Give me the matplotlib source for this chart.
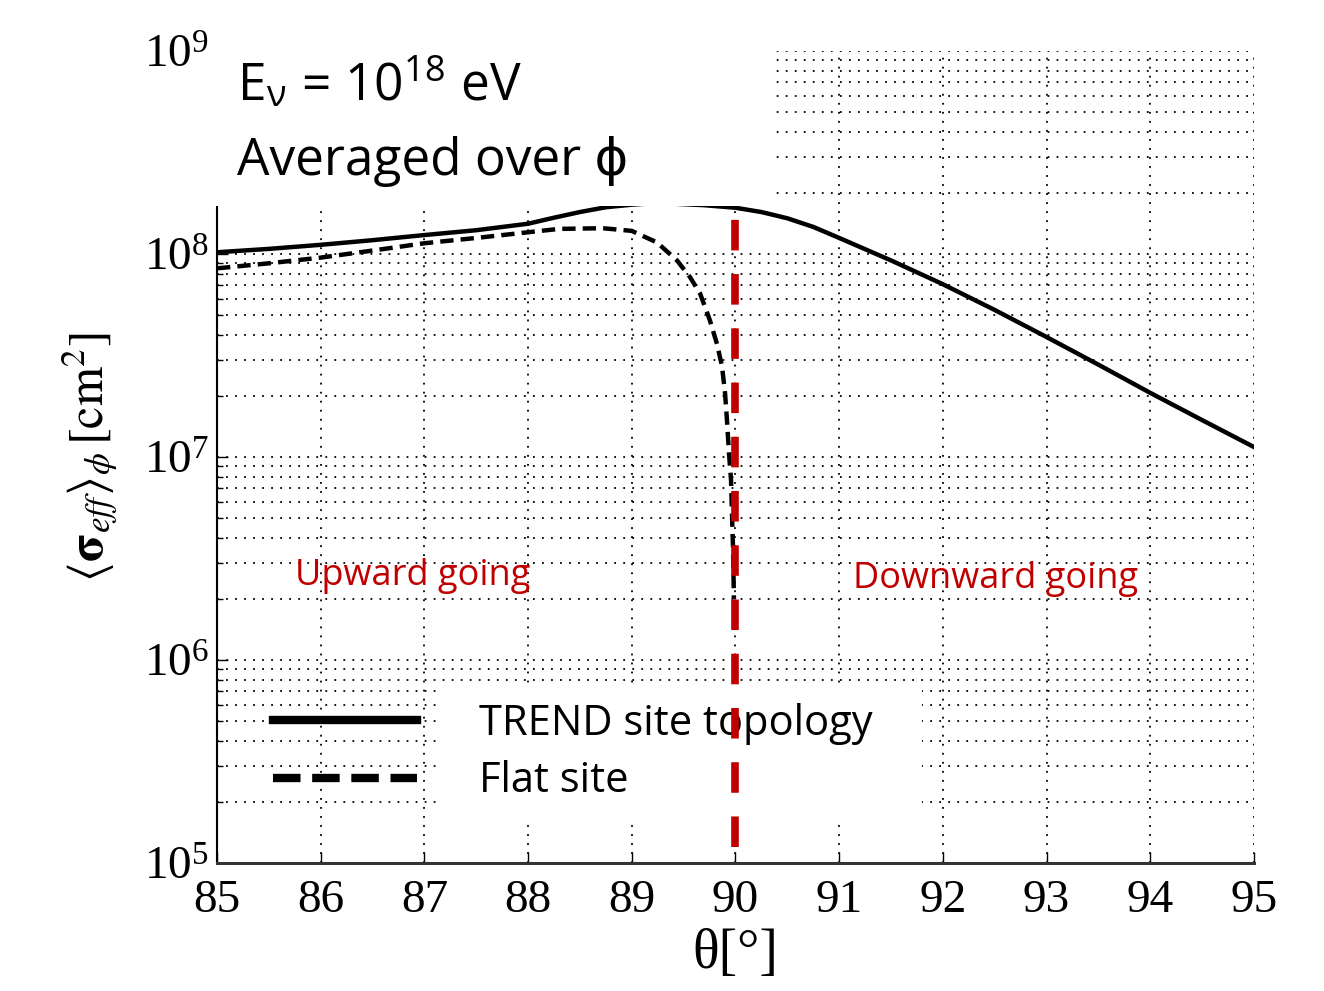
import matplotlib.pyplot as plt
import numpy as np
from matplotlib.patches import Rectangle

# =====================
# Data
# =====================
theta_trend = np.array([85.0, 85.5, 86.0, 86.5, 87.0, 87.5, 88.0, 88.25, 88.5, 88.75, 89.0, 89.2, 89.4,
                        89.7, 90.0, 90.25, 90.5, 90.75, 91.0, 91.5, 92.0, 92.5, 93.0, 93.5, 94.0, 94.5, 95.0])
sigma_trend = np.array([1.02e8, 1.06e8, 1.11e8, 1.17e8, 1.24e8, 1.31e8, 1.41e8, 1.51e8, 1.61e8, 1.70e8,
                        1.75e8, 1.78e8, 1.77e8, 1.74e8, 1.69e8, 1.61e8, 1.50e8, 1.36e8, 1.20e8, 9.3e7,
                        7.1e7, 5.3e7, 3.9e7, 2.85e7, 2.07e7, 1.52e7, 1.12e7])

theta_flat = np.array([85.0, 85.5, 86.0, 86.5, 87.0, 87.5, 88.0, 88.3, 88.72, 89.0, 89.243, 89.436,
                       89.561, 89.658, 89.754, 89.822, 89.870, 89.899, 89.918, 89.937, 89.957,
                       89.966, 89.976, 89.985])
sigma_flat = np.array([8.5e7, 9.0e7, 9.6e7, 1.04e8, 1.13e8, 1.2e8, 1.28e8, 1.33e8, 1.34e8, 1.30e8, 1.14e8, 9.3e7,
                       7.7e7, 6.4e7, 4.7e7, 3.6e7, 2.8e7, 2.07e7, 1.52e7, 1.05e7, 7.7e6,
                       5.3e6, 3.6e6, 2.0e6])

horizon = 90.0
horizon_span = (1.2e5, 1.5e8)

labels = ['TREND site topology', 'Flat site']
xticks = np.arange(85, 96, 1)

RED = '#C00000'

plt.rcParams.update({
    'font.family': 'Liberation Serif',
    'mathtext.fontset': 'stix',
})

fig = plt.figure(figsize=(13.24, 9.91), dpi=100)
ax = fig.add_axes([0.1639, 0.1292, 0.7832, 0.8193])

ax.plot(theta_trend, sigma_trend, '-', color='black', lw=3.2, zorder=3, label=labels[0])
ax.plot(theta_flat, sigma_flat, color='black', lw=3.2, linestyle=(0, (3, 1.6)), zorder=3, label=labels[1])
ax.vlines(horizon, horizon_span[0], horizon_span[1], colors=RED, lw=5.5,
          linestyles=(0, (4, 3.1)), zorder=7)

ax.set_yscale('log')
ax.set_xlim(85, 95)
ax.set_ylim(1e5, 1e9)
ax.set_xticks(xticks)
ax.set_xticklabels([str(t) for t in xticks])

# grid
ax.grid(True, which='major', axis='both', color='black', linestyle=(0, (1, 4)), lw=1.3)
ax.grid(True, which='minor', axis='y', color='black', linestyle=(0, (1, 4)), lw=1.3)
ax.set_axisbelow(True)

for s in ['top', 'right']:
    ax.spines[s].set_visible(False)
ax.spines['left'].set_linewidth(1.5)
ax.spines['bottom'].set_linewidth(2.2)
ax.spines['bottom'].set_color('#333333')

ax.tick_params(axis='both', which='major', direction='in', length=8, width=1,
               labelsize=34, top=False, right=False)
ax.tick_params(axis='y', which='minor', direction='in', length=4, width=1, right=False)
ax.tick_params(axis='x', pad=12)
ax.tick_params(axis='y', pad=6)

ax.set_xlabel('θ[°]', fontsize=40, labelpad=4)
ax.set_ylabel(r'$\langle\mathbf{\sigma}_{eff}\rangle_{\phi}\,[\mathrm{cm}^2]$', fontsize=36, labelpad=18)

# white overlay boxes
ax.add_patch(Rectangle((0.1616, 0.792), 0.4244, 0.208, transform=fig.transFigure,
                       facecolor='white', edgecolor='none', clip_on=False, zorder=4.5))
ax.add_patch(Rectangle((0.332, 0.1746), 0.364, 0.1332, transform=fig.transFigure,
                       facecolor='white', edgecolor='none', clip_on=False, zorder=4.5))

sans = ['Open Sans', 'DejaVu Sans']
ax.text(0.179, 0.899, r'E$_{\mathdefault{ν}}$ = 10$^{\mathdefault{18}}$ eV', transform=fig.transFigure,
        fontsize=37, family=sans, va='baseline', ha='left', zorder=6)
ax.text(0.179, 0.823, 'Averaged over ϕ', transform=fig.transFigure,
        fontsize=37, family=sans, va='baseline', ha='left', zorder=6)

ax.text(85.75, 2.6e6, 'Upward going', color=RED, fontsize=26, family=sans, va='center', ha='left')
ax.text(91.13, 2.5e6, 'Downward going', color=RED, fontsize=26, family=sans, va='center', ha='left')

leg = ax.legend(loc='upper left', bbox_to_anchor=(0.022, 0.238), frameon=False,
                prop={'family': 'Open Sans', 'size': 30}, handlelength=3.45,
                handletextpad=1.5, labelspacing=0.37, borderpad=0.3)
leg.set_zorder(6)
for ln in leg.get_lines():
    ln.set_linewidth(6)
leg.get_lines()[1].set_linestyle((0, (3.3, 1.4)))

fig.savefig('out.png', dpi=100)
